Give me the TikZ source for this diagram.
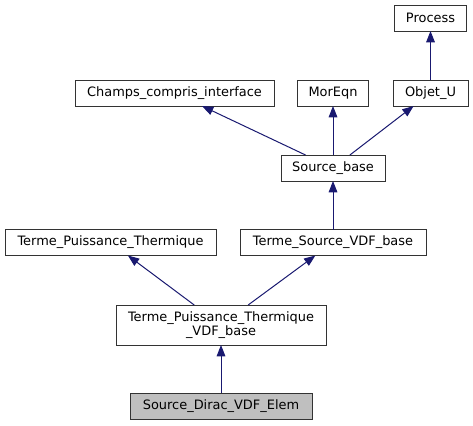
\documentclass[tikz,border=0pt]{standalone}
\usepackage{fontspec}
\setmainfont{DejaVu Sans}
\usetikzlibrary{arrows.meta}

\begin{document}
\begin{tikzpicture}[x=0.75pt, y=-0.75pt,
    classbox/.style={draw=black!80, line width=0.75pt, fill=white, inner sep=0pt, outer sep=0pt,
        minimum height=19.5pt, align=center, font=\fontsize{9.7pt}{10.5pt}\selectfont},
    inherit/.style={draw=edgeblue, line width=0.75pt, {Triangle[length=8.5pt, width=6.5pt]}-}]
        \definecolor{edgeblue}{RGB}{25,25,112}
        \definecolor{focusgrey}{RGB}{191,191,191}

        \useasboundingbox (0, 0) rectangle (473, 425);

        % top rows
        \node[classbox, minimum width=54pt] (process) at (430.5, 18) {Process};
        \node[classbox, minimum width=149.25pt] (champs) at (174.5, 93) {Champs\_compris\_interface};
        \node[classbox, minimum width=53.25pt] (moreqn) at (333, 93) {MorEqn};
        \node[classbox, minimum width=56.25pt] (objetu) at (430.5, 93) {Objet\_U};
        \node[classbox, minimum width=78pt] (sourcebase) at (333, 168) {Source\_base};

        % middle rows
        \node[classbox, minimum width=158.25pt] (termept) at (110.5, 242.5) {Terme\_Puissance\_Thermique};
        \node[classbox, minimum width=139.5pt] (termesvdf) at (333, 242.5) {Terme\_Source\_VDF\_base};
        \node[classbox, minimum width=157.5pt, minimum height=30pt] (termeptvdf) at (221, 325)
            {Terme\_Puissance\_Thermique\\\_VDF\_base};

        % the class itself
        \node[classbox, fill=focusgrey, minimum width=136.5pt] (dirac) at (221, 406) {Source\_Dirac\_VDF\_Elem};

        \draw[inherit] (process) -- (objetu);
        \draw[inherit] (champs) -- (sourcebase);
        \draw[inherit] (moreqn) -- (sourcebase);
        \draw[inherit] (objetu) -- (sourcebase);
        \draw[inherit] (sourcebase) -- (termesvdf);
        \draw[inherit] (termept) -- (termeptvdf);
        \draw[inherit] (termesvdf) -- (termeptvdf);
        \draw[inherit] (termeptvdf) -- (dirac);

\end{tikzpicture}
\end{document}
